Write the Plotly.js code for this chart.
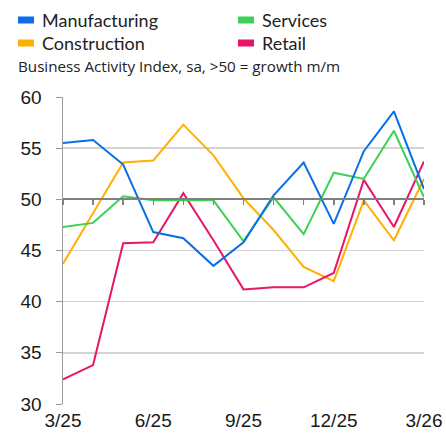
<!DOCTYPE html>
<html>
<head>
<meta charset="utf-8">
<script src="https://cdn.plot.ly/plotly-3.0.1.min.js"></script>
<style>html,body{margin:0;padding:0;background:#fff}#chart{width:446px;height:437px}</style>
</head>
<body>
<div id="chart"></div>
<script>
const months = ["3/25","4/25","5/25","6/25","7/25","8/25","9/25","10/25","11/25","12/25","1/26","2/26","3/26"];
const tickLabels = ["3/25","6/25","9/25","12/25","3/26"];
const manufacturing = [55.5,55.8,53.4,46.8,46.2,43.5,45.8,50.4,53.6,47.6,54.7,58.6,51.0];
const services      = [47.3,47.7,50.3,49.9,49.9,49.9,45.9,50.2,46.6,52.6,52.0,56.7,50.2];
const construction  = [43.7,48.6,53.6,53.8,57.3,54.3,50.1,47.0,43.4,42.0,49.9,46.0,52.0];
const retail        = [32.4,33.8,45.7,45.8,50.6,46.0,41.2,41.4,41.4,42.8,51.9,47.3,53.7];
const seriesNames = ["Manufacturing","Services","Construction","Retail"];
const seriesColors = ["#0a6fe6","#3dd158","#ffb000","#e8156a"];
const seriesData = [manufacturing, services, construction, retail];
const subtitle = "Business Activity Index, sa, >50 = growth m/m";

const xIdx = months.map((m,i)=>i);
const tickIdx = tickLabels.map(t=>months.indexOf(t));

const drawOrder = [2,3,1,0];
const traces = drawOrder.map(k=>({
  x: xIdx, y: seriesData[k], type:'scatter', mode:'lines', name: seriesNames[k],
  line:{color: seriesColors[k], width:2}, showlegend:false, xaxis:'x', yaxis:'y'
}));
// invisible trace that activates the axis drawn along the 50 line
traces.push({x:[0],y:[50],xaxis:'x2',yaxis:'y',mode:'markers',marker:{opacity:0},showlegend:false,hoverinfo:'skip'});

const W = 446, H = 437, mL = 63, mR = 22, mT = 97, mB = 33;
const pw = W-mL-mR, ph = H-mT-mB;
const px2x = p => (p-mL)/pw;
const py2y = p => 1-(p-mT)/ph;
const colX = [18, 238];
const rowY = [20, 43];
const legShapes = [];
const legAnn = [];
seriesNames.forEach((n,i)=>{
  const c = i%2, r = Math.floor(i/2);
  const sx = colX[c], sy = rowY[r];
  legShapes.push({type:'rect', xref:'paper', yref:'paper', x0:px2x(sx), x1:px2x(sx+16), y0:py2y(sy+3.5), y1:py2y(sy-3.5),
    fillcolor: seriesColors[i], line:{width:0}});
  legAnn.push({xref:'paper', yref:'paper', x:px2x(sx+22), y:py2y(sy), xanchor:'left', yanchor:'middle',
    text:n, showarrow:false, font:{family:'Lato, sans-serif', size:18, color:'#222'}});
});
legAnn.push({xref:'paper', yref:'paper', x:px2x(16), y:py2y(66), xanchor:'left', yanchor:'middle',
  text:subtitle, showarrow:false, font:{family:'Open Sans, sans-serif', size:15.2, color:'#222'}});

const layout = {
  width:W, height:H, margin:{l:mL, r:mR, t:mT, b:mB, pad:0},
  paper_bgcolor:'#fff', plot_bgcolor:'#fff', showlegend:false,
  xaxis:{range:[0,12], tickmode:'array', tickvals:tickIdx, ticktext:tickLabels, showgrid:false, zeroline:false,
    showline:false, ticks:'', ticklabelstandoff:3, tickfont:{family:'Liberation Sans, Arial, sans-serif', size:19, color:'#1a1a1a'}},
  xaxis2:{range:[0,12], overlaying:'x', anchor:'free', position:2/3, side:'bottom', showticklabels:false,
    showline:true, linecolor:'#808080', linewidth:2, ticks:'outside', ticklen:5, tickwidth:1.5, tickcolor:'#808080',
    dtick:1, tick0:0, showgrid:false, zeroline:false},
  yaxis:{range:[30,60], dtick:5, tick0:30, showline:true, linecolor:'#999', linewidth:1.5, ticks:'outside', ticklen:6,
    tickcolor:'#999', gridcolor:'#d4d4d4', gridwidth:1.5, zeroline:false,
    tickfont:{family:'Liberation Sans, Arial, sans-serif', size:19, color:'#1a1a1a'}, ticklabelstandoff:10},
  shapes: legShapes,
  annotations: legAnn
};
Plotly.newPlot('chart', traces, layout, {displayModeBar:false, staticPlot:true});
</script>
</body>
</html>
